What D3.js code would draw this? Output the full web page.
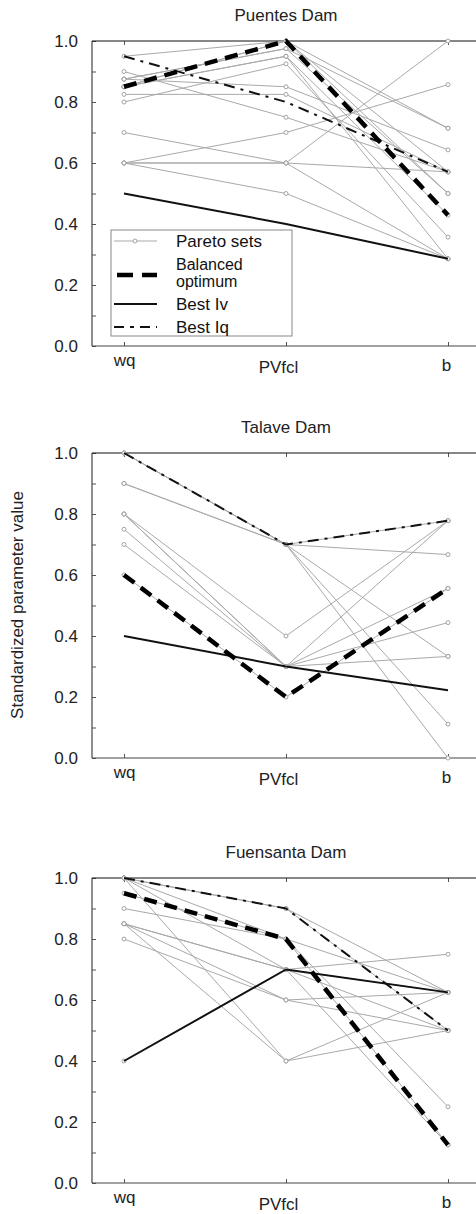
<!DOCTYPE html>
<html>
<head>
<meta charset="utf-8">
<script src="https://cdn.jsdelivr.net/npm/d3@7/dist/d3.min.js"></script>
<style>
  body { margin: 0; background: #fff; }
  svg { font-family: 'Liberation Sans', Arial, sans-serif; }
  .pareto { fill: none; stroke: #a9a9a9; stroke-width: 1; }
  .pareto-dot { fill: #fff; stroke: #9a9a9a; stroke-width: 0.9; }
  .balanced { fill: none; stroke: #000; stroke-width: 4.5; stroke-dasharray: 13 8; }
  .best-iv { fill: none; stroke: #111; stroke-width: 2; }
  .best-iq { fill: none; stroke: #111; stroke-width: 2; stroke-dasharray: 11 6 3 6; }
  .frame { stroke: #444; stroke-width: 1.2; }
  .tick line { stroke: #555; }
  .tick text { fill: #222; font-size: 17px; }
  .title { fill: #222; font-size: 17px; text-anchor: middle; }
  .legend-text { fill: #111; font-size: 17px; }
</style>
</head>
<body>
<div id="root"></div>
<script>
// Variables
const width = 476;
const height = 1214;
const panelHeight = 305;
const panelTops = [41, 453, 878];
const frameLeft = 92;
const frameRight = 481;

// Data
const categories = ['wq', 'PVfcl', 'b'];
const yTicks = [0, 0.1, 0.2, 0.3, 0.4, 0.5, 0.6, 0.7, 0.8, 0.9, 1.0];
const dams = ['Puentes Dam', 'Talave Dam', 'Fuensanta Dam'];

const puentesPareto = [
  [0.95, 1.0, 0.714],
  [0.90, 0.75, 0.571],
  [0.875, 0.85, 0.643],
  [0.875, 0.975, 0.5],
  [0.875, 0.975, 0.714],
  [0.85, 1.0, 0.5],
  [0.85, 0.95, 0.429],
  [0.85, 0.95, 0.286],
  [0.85, 1.0, 0.571],
  [0.825, 0.825, 0.571],
  [0.80, 0.925, 0.357],
  [0.70, 0.60, 0.571],
  [0.60, 0.70, 0.857],
  [0.60, 0.60, 1.0],
  [0.60, 0.60, 0.286],
  [0.60, 0.50, 0.286]
];
const puentesBalanced = [0.85, 1.0, 0.429];
const puentesBestIv = [0.5, 0.4, 0.286];
const puentesBestIq = [0.95, 0.8, 0.571];

const talavePareto = [
  [1.0, 0.7, 0.778],
  [1.0, 0.7, 0.0],
  [0.9, 0.7, 0.667],
  [0.9, 0.7, 0.111],
  [1.0, 0.7, 0.333],
  [0.8, 0.4, 0.778],
  [0.8, 0.3, 0.778],
  [0.8, 0.3, 0.556],
  [0.75, 0.3, 0.444],
  [0.7, 0.3, 0.333],
  [0.6, 0.2, 0.556]
];
const talaveBalanced = [0.6, 0.2, 0.556];
const talaveBestIv = [0.4, 0.3, 0.222];
const talaveBestIq = [1.0, 0.7, 0.778];

const fuensantaPareto = [
  [1.0, 0.9, 0.5],
  [1.0, 0.9, 0.625],
  [1.0, 0.8, 0.25],
  [1.0, 0.7, 0.125],
  [1.0, 0.4, 0.625],
  [0.95, 0.8, 0.125],
  [0.9, 0.8, 0.625],
  [0.85, 0.7, 0.75],
  [0.85, 0.6, 0.625],
  [0.85, 0.7, 0.5],
  [0.8, 0.6, 0.5],
  [0.85, 0.4, 0.5],
  [0.4, 0.7, 0.625]
];
const fuensantaBalanced = [0.95, 0.8, 0.125];
const fuensantaBestIv = [0.4, 0.7, 0.625];
const fuensantaBestIq = [1.0, 0.9, 0.5];

const legendLabels = [['Pareto sets'], ['Balanced', 'optimum'], ['Best Iv'], ['Best Iq']];

const panels = [
  { pareto: puentesPareto, balanced: puentesBalanced, bestIv: puentesBestIv, bestIq: puentesBestIq },
  { pareto: talavePareto, balanced: talaveBalanced, bestIv: talaveBestIv, bestIq: talaveBestIq },
  { pareto: fuensantaPareto, balanced: fuensantaBalanced, bestIv: fuensantaBestIv, bestIq: fuensantaBestIq }
];

// Category label nudges (the source figure staggers them)
const labelDrop = { wq: 0, PVfcl: 7, b: 5 };
const labelShift = { wq: 0, PVfcl: -8, b: -2 };

// Create SVG
const chart = d3.select('#root')
  .append('svg:svg')
  .attr('width', width)
  .attr('height', height);

const x = d3.scalePoint()
  .domain(categories)
  .range([124, 448]);

const line = d3.line()
  .x((d, i) => x(categories[i]))
  .y(d => d);

/**
 * Draw one dam panel
 * @param {Object} panel The series of the panel
 * @param {Number} index Position of the panel
 */
function drawPanel(panel, index) {
  const top = panelTops[index];
  const y = d3.scaleLinear()
    .domain([0, 1])
    .range([top + panelHeight, top]);

  const g = chart.append('svg:g');

  // Title
  g.append('svg:text')
    .attr('class', 'title')
    .attr('x', x('PVfcl'))
    .attr('y', top - 20)
    .text(dams[index]);

  // Left axis
  g.append('svg:g')
    .attr('transform', `translate(${frameLeft},0)`)
    .call(d3.axisLeft(y)
      .tickValues(yTicks)
      .tickSize(-4)
      .tickSizeOuter(0)
      .tickPadding(14)
      .tickFormat(d => Math.round(d * 10) % 2 === 0 ? d3.format('.1f')(d) : ''))
    .call(a => a.select('.domain').remove());

  // Right axis (ticks only, frame runs past the picture)
  g.append('svg:g')
    .attr('transform', `translate(${frameRight},0)`)
    .call(d3.axisRight(y).tickValues(yTicks).tickSize(-5).tickFormat(''))
    .call(a => a.select('.domain').remove());

  // Bottom axis
  g.append('svg:g')
    .attr('transform', `translate(0,${top + panelHeight})`)
    .call(d3.axisBottom(x).tickSize(-4).tickPadding(10))
    .call(a => a.select('.domain').remove())
    .selectAll('.tick text')
      .attr('dx', d => labelShift[d])
      .attr('dy', d => 10 + labelDrop[d]);

  // Top ticks
  g.append('svg:g')
    .attr('transform', `translate(0,${top})`)
    .call(d3.axisTop(x).tickSize(-4).tickFormat(''))
    .call(a => a.select('.domain').remove());

  // Frame
  g.append('svg:line')
    .attr('class', 'frame')
    .attr('x1', frameLeft).attr('x2', frameLeft)
    .attr('y1', y(1)).attr('y2', y(0));
  g.append('svg:line')
    .attr('class', 'frame')
    .attr('x1', frameLeft).attr('x2', frameRight)
    .attr('y1', y(0)).attr('y2', y(0));
  g.append('svg:line')
    .attr('class', 'frame')
    .style('stroke', '#111')
    .attr('x1', frameLeft).attr('x2', frameRight)
    .attr('y1', y(1)).attr('y2', y(1));

  // Pareto sets
  g.append('svg:g')
    .selectAll('path')
    .data(panel.pareto)
    .enter()
      .append('svg:path')
      .attr('class', 'pareto')
      .attr('d', d => line(d.map(y)));

  g.append('svg:g')
    .selectAll('circle')
    .data(panel.pareto.flatMap(d => d.map((v, i) => [i, v])))
    .enter()
      .append('svg:circle')
      .attr('class', 'pareto-dot')
      .attr('cx', d => x(categories[d[0]]))
      .attr('cy', d => y(d[1]))
      .attr('r', 2);

  // Highlighted solutions
  g.append('svg:path').attr('class', 'best-iq').attr('d', line(panel.bestIq.map(y)));
  g.append('svg:path').attr('class', 'best-iv').attr('d', line(panel.bestIv.map(y)));
  g.append('svg:path').attr('class', 'balanced').attr('d', line(panel.balanced.map(y)));
}

panels.forEach(drawPanel);

// Y axis title
chart.append('svg:text')
  .attr('class', 'legend-text')
  .attr('transform', 'translate(23,605) rotate(-90)')
  .attr('text-anchor', 'middle')
  .style('font-size', '17px')
  .style('fill', '#222')
  .text('Standardized parameter value');

// Legend (top panel)
const legend = chart.append('svg:g');
legend.append('svg:rect')
  .attr('x', 111)
  .attr('y', 230)
  .attr('width', 181)
  .attr('height', 106)
  .attr('fill', '#fff')
  .attr('stroke', '#888');

const legendRows = [241, 275, 304, 327];
const legendClasses = ['pareto', 'balanced', 'best-iv', 'best-iq'];

legendLabels.forEach((labels, i) => {
  const yRow = legendRows[i];
  legend.append('svg:path')
    .attr('class', legendClasses[i])
    .attr('d', `M${i === 1 ? 117 : 114},${yRow}H157`)
    .style('stroke-dasharray', i === 1 ? '16 9' : i === 3 ? '10 6 4 6' : null);
  if (i === 0) {
    legend.append('svg:circle')
      .attr('class', 'pareto-dot')
      .attr('cx', 135)
      .attr('cy', yRow)
      .attr('r', 2);
  }
  // two-line label is set a touch smaller so the lines do not collide
  const multi = labels.length > 1;
  labels.forEach((label, j) => {
    legend.append('svg:text')
      .attr('class', 'legend-text')
      .style('font-size', multi ? '16px' : null)
      .attr('x', 176)
      .attr('y', multi ? yRow - 5 + j * 16.5 : yRow + 6)
      .text(label);
  });
});
</script>
</body>
</html>
